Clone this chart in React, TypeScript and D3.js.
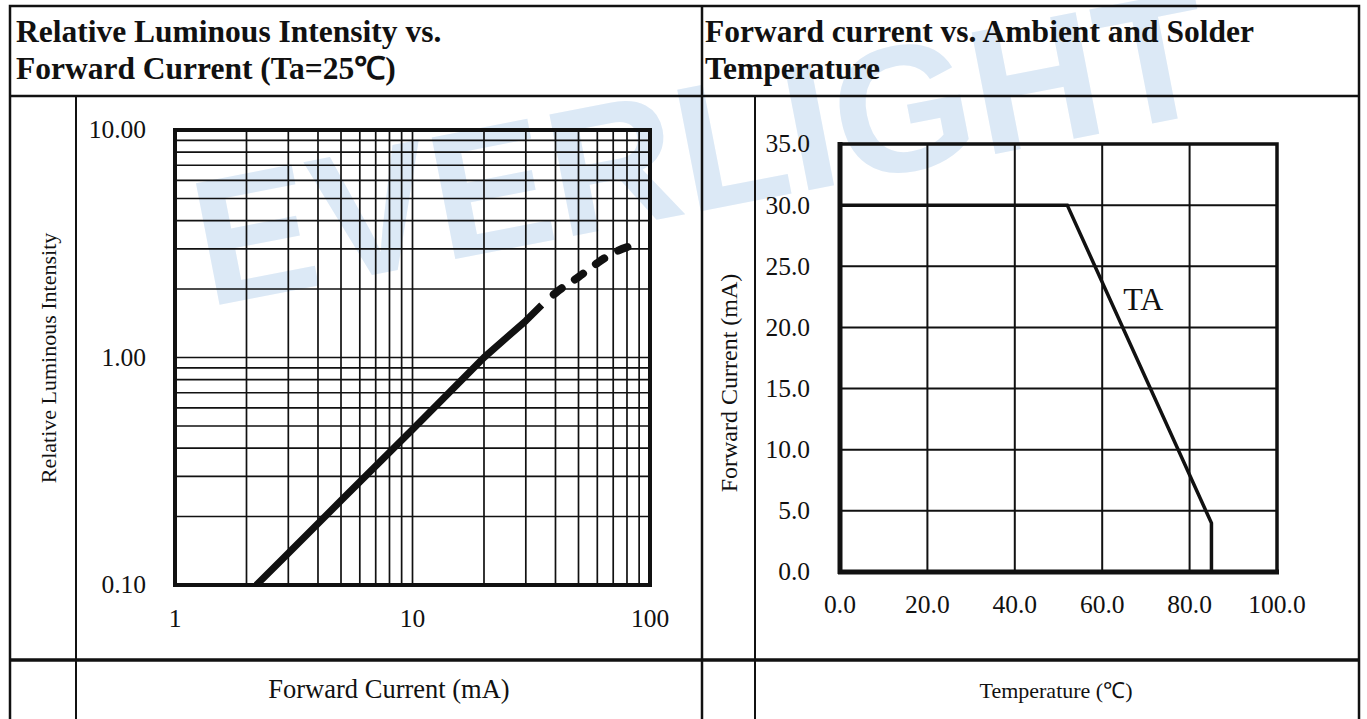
import React from "react";
import * as d3 from "d3";

// ---------- Data ----------
// Left chart: Relative Luminous Intensity vs Forward Current (log-log)
const lumCurrentSolid = [2.2, 3, 5, 10, 20, 30, 35];
const lumIntensitySolid = [0.1, 0.138, 0.235, 0.483, 1.0, 1.45, 1.7];
const lumCurrentDashed = [35, 40, 50, 60, 70, 85];
const lumIntensityDashed = [1.7, 1.92, 2.26, 2.6, 2.88, 3.12];
const lumXTicks = [1, 10, 100];
const lumXTickLabels = ["1", "10", "100"];
const lumYTicks = [0.1, 1, 10];
const lumYTickLabels = ["0.10", "1.00", "10.00"];

// Right chart: Forward current vs Ambient temperature (derating)
const tempValues = [0, 52, 85, 85];
const currentValues = [30, 30, 4, 0];
const tempTicks = [0, 20, 40, 60, 80, 100];
const tempTickLabels = ["0.0", "20.0", "40.0", "60.0", "80.0", "100.0"];
const currentTicks = [0, 5, 10, 15, 20, 25, 30, 35];
const currentTickLabels = ["0.0", "5.0", "10.0", "15.0", "20.0", "25.0", "30.0", "35.0"];
const curveLabel = "TA";
const curveLabelPos = [64.8, 21.4];

const titleLeft1 = "Relative Luminous Intensity vs.";
const titleLeft2 = "Forward Current (Ta=25\u2103)";
const titleRight1 = "Forward current vs. Ambient and Solder";
const titleRight2 = "Temperature";
const leftYTitle = "Relative Luminous Intensity";
const leftXTitle = "Forward Current (mA)";
const rightYTitle = "Forward Current (mA)";
const rightXTitle = "Temperature (\u2103)";

const W = 1367;
const H = 719;
const SERIF = "'Liberation Serif', 'Times New Roman', serif";

export default function App() {
  // Left chart scales
  const lx = d3.scaleLog().domain([1, 100]).range([175, 650]);
  const ly = d3.scaleLog().domain([0.1, 10]).range([585, 130]);

  const gridX: number[] = [];
  const gridY: number[] = [];
  for (const dec of [1, 10]) for (let m = 2; m <= 9; m++) gridX.push(m * dec);
  gridX.push(10);
  for (const dec of [0.1, 1]) for (let m = 2; m <= 9; m++) gridY.push(m * dec);
  gridY.push(1);

  const lumLine = d3
    .line<[number, number]>()
    .x((d) => lx(d[0]))
    .y((d) => ly(d[1]));
  const solidPts = lumCurrentSolid.map((c, i) => [c, lumIntensitySolid[i]] as [number, number]);
  const dashedPts = lumCurrentDashed.map((c, i) => [c, lumIntensityDashed[i]] as [number, number]);
  const dashLine = d3
    .line<[number, number]>()
    .x((d) => lx(d[0]))
    .y((d) => ly(d[1]))
    .curve(d3.curveMonotoneX);

  // Right chart scales
  const rx = d3.scaleLinear().domain([0, 100]).range([840, 1277]);
  const ry = d3.scaleLinear().domain([0, 35]).range([572, 144]);
  const tempLine = d3
    .line<[number, number]>()
    .x((d) => rx(d[0]))
    .y((d) => ry(d[1]));
  const tempPts = tempValues.map((t, i) => [t, currentValues[i]] as [number, number]);

  const ink = "#111";

  return (
    <svg
      width={W}
      height={H}
      style={{ position: "absolute", left: 0, top: 0, background: "#fff" }}
      fontFamily={SERIF}
    >
      <defs>
        <clipPath id="lclip">
          <rect x={175} y={130} width={475} height={455} />
        </clipPath>
      </defs>
      <rect x={0} y={0} width={W} height={H} fill="#fff" />

      {/* Watermark */}
      <text
        x={700}
        y={210}
        textAnchor="middle"
        fontFamily="'Liberation Sans', Arial, sans-serif"
        fontWeight="bold"
        fontSize={180}
        fill="#dce9f6"
        transform="rotate(-11 700 140)"
      >
        EVERLIGHT
      </text>

      {/* Table lines */}
      <g stroke={ink} fill="none">
        <rect x={10} y={6} width={1349} height={716} strokeWidth={2.5} />
        <line x1={10} x2={1359} y1={96} y2={96} strokeWidth={2.5} />
        <line x1={10} x2={1359} y1={660} y2={660} strokeWidth={3.5} />
        <line x1={702} x2={702} y1={6} y2={719} strokeWidth={2.5} />
        <line x1={76} x2={76} y1={96} y2={719} strokeWidth={2} />
        <line x1={755} x2={755} y1={96} y2={719} strokeWidth={2} />
      </g>

      {/* Headers */}
      <g fontWeight="bold" fontSize={31.5} fill={ink}>
        <text x={16} y={42}>{titleLeft1}</text>
        <text x={16} y={79}>{titleLeft2}</text>
        <text x={705} y={42}>{titleRight1}</text>
        <text x={705} y={79}>{titleRight2}</text>
      </g>

      {/* ---------- Left chart ---------- */}
      <g stroke={ink} strokeWidth={1.7}>
        {gridX.map((v, i) => (
          <line key={"gx" + i} x1={lx(v)} x2={lx(v)} y1={130} y2={585} />
        ))}
        {gridY.map((v, i) => (
          <line key={"gy" + i} x1={175} x2={650} y1={ly(v)} y2={ly(v)} />
        ))}
      </g>
      <rect x={175} y={130} width={475} height={455} fill="none" stroke={ink} strokeWidth={4} />
      <g clipPath="url(#lclip)">
        <path d={lumLine(solidPts) || ""} fill="none" stroke={ink} strokeWidth={7} strokeLinejoin="round" />
      </g>
      <path
        d={dashLine(dashedPts) || ""}
        fill="none"
        stroke={ink}
        strokeWidth={8}
        strokeLinecap="round"
        strokeDasharray="10 16"
        strokeDashoffset={10}
      />
      <g fontSize={25.5} fill={ink}>
        {lumYTicks.map((v, i) => (
          <text key={"lyt" + i} x={146} y={ly(v)} dy="0.33em" textAnchor="end">
            {lumYTickLabels[i]}
          </text>
        ))}
        {lumXTicks.map((v, i) => (
          <text key={"lxt" + i} x={lx(v)} y={627} textAnchor="middle">
            {lumXTickLabels[i]}
          </text>
        ))}
      </g>
      <text
        fontSize={22}
        fill={ink}
        textAnchor="middle"
        transform={`translate(48, 358) rotate(-90)`}
        dy="0.35em"
      >
        {leftYTitle}
      </text>
      <text x={389} y={698} fontSize={26.5} fill={ink} textAnchor="middle">
        {leftXTitle}
      </text>

      {/* ---------- Right chart ---------- */}
      <g stroke={ink} strokeWidth={2}>
        {tempTicks.slice(1, -1).map((v, i) => (
          <line key={"rgx" + i} x1={rx(v)} x2={rx(v)} y1={144} y2={572} />
        ))}
        {currentTicks.slice(1, -1).map((v, i) => (
          <line key={"rgy" + i} x1={840} x2={1277} y1={ry(v)} y2={ry(v)} />
        ))}
      </g>
      <rect x={840} y={144} width={437} height={428} fill="none" stroke={ink} strokeWidth={3.5} />
      <line x1={840} x2={840} y1={142} y2={574} stroke={ink} strokeWidth={5} />
      <line x1={838} x2={1279} y1={572} y2={572} stroke={ink} strokeWidth={5} />
      <path d={tempLine(tempPts) || ""} fill="none" stroke={ink} strokeWidth={3.5} strokeLinejoin="miter" />
      <text
        x={rx(curveLabelPos[0])}
        y={ry(curveLabelPos[1])}
        fontSize={32}
        fill={ink}
      >
        {curveLabel}
      </text>
      <g fontSize={25.5} fill={ink}>
        {currentTicks.map((v, i) => (
          <text key={"ryt" + i} x={810} y={ry(v)} dy="0.33em" textAnchor="end">
            {currentTickLabels[i]}
          </text>
        ))}
        {tempTicks.map((v, i) => (
          <text key={"rxt" + i} x={rx(v)} y={613} textAnchor="middle">
            {tempTickLabels[i]}
          </text>
        ))}
      </g>
      <text
        fontSize={24}
        fill={ink}
        textAnchor="middle"
        transform={`translate(729, 383) rotate(-90)`}
        dy="0.35em"
      >
        {rightYTitle}
      </text>
      <text x={1056} y={698} fontSize={22} fill={ink} textAnchor="middle">
        {rightXTitle}
      </text>
    </svg>
  );
}
